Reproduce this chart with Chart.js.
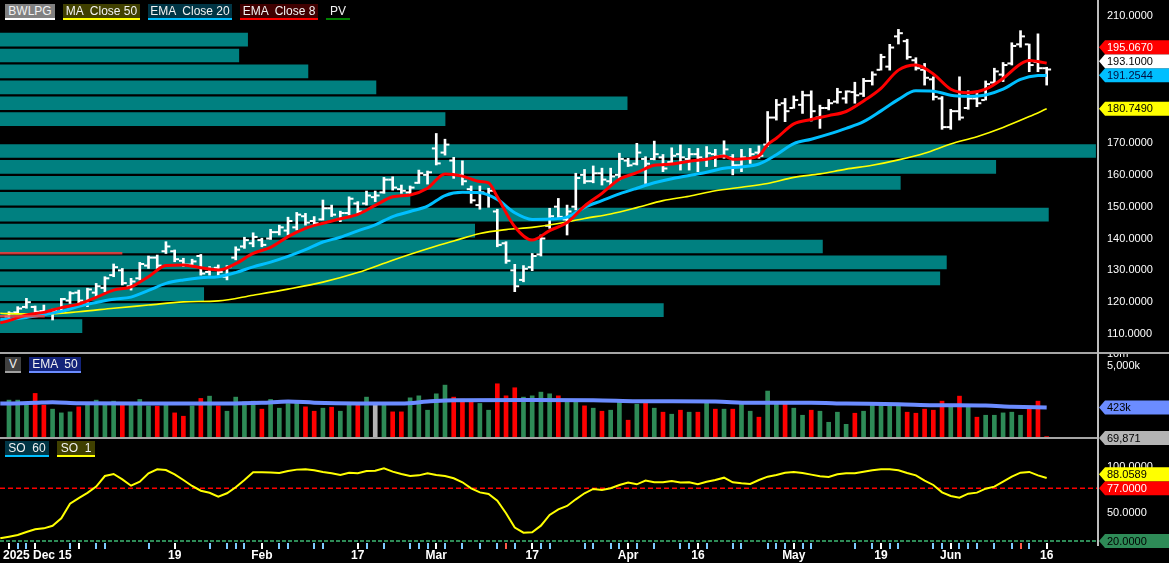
<!DOCTYPE html>
<html>
<head>
<meta charset="utf-8">
<title>BWLPG</title>
<script src="https://cdn.jsdelivr.net/npm/chart.js@4.4.1/dist/chart.umd.min.js"></script>
<style>
  html, body { margin: 0; padding: 0; background: #000; }
  #wrap { position: relative; width: 1169px; height: 563px; overflow: hidden; background: #000;
          font-family: "Liberation Sans", Arial, sans-serif; }
  canvas { position: absolute; left: 0; }
  .sep { position: absolute; background: #a6a6a6; z-index: 2; }
  .chip { position: absolute; z-index: 3; height: 16px; line-height: 14px; box-sizing: border-box;
          font-size: 12px; color: #f2f2f2; text-align: center; white-space: pre; border-bottom: 2px solid; }
</style>
</head>
<body>
<div id="wrap">
  <canvas id="priceChart" width="1169" height="352" style="top:0px"></canvas>
  <canvas id="soChart" width="1169" height="124" style="top:439px"></canvas>
  <canvas id="volChart" width="1169" height="100" style="top:354px"></canvas>

  <div class="sep" style="left:0;top:352px;width:1169px;height:2px"></div>
  <div class="sep" style="left:0;top:437px;width:1097px;height:2px"></div>
  <div class="sep" style="left:1097px;top:0;width:2px;height:546px;background:#bdbdbd"></div>

  <div class="chip" style="left:5px;top:4px;width:50px;background:#808080;border-color:#ffffff">BWLPG</div>
  <div class="chip" style="left:63px;top:4px;width:77px;background:#404000;border-color:#ffff00">MA  Close 50</div>
  <div class="chip" style="left:148px;top:4px;width:84px;background:#003545;border-color:#00bfff">EMA  Close 20</div>
  <div class="chip" style="left:240px;top:4px;width:78px;background:#400000;border-color:#ff0000">EMA  Close 8</div>
  <div class="chip" style="left:326px;top:4px;width:24px;border-color:#008000">PV</div>

  <div class="chip" style="left:5px;top:357px;width:16px;background:#404040;border-color:#a0a0a0">V</div>
  <div class="chip" style="left:29px;top:357px;width:52px;background:#13237a;border-color:#6b8cff">EMA  50</div>

  <div class="chip" style="left:5px;top:441px;width:44px;background:#003545;border-color:#00bfff">SO  60</div>
  <div class="chip" style="left:57px;top:441px;width:38px;background:#404000;border-color:#ffff00">SO  1</div>
</div>

<script>
const FONT = '"Liberation Sans", Arial, sans-serif';

// bar index 0 = 2025 Dec 15, index 119 = Jun 16
const xLabelIdx  = [0, 19, 29, 40, 49, 60, 71, 79, 90, 100, 108, 119];
const xLabelText = ['2025 Dec 15', '19', 'Feb', '17', 'Mar', '17', 'Apr', '16', 'May', '19', 'Jun', '16'];
const whiteTickIdx = [0, 3, 8, 19, 29, 40, 49, 60, 71, 79, 90, 100, 108, 119];
const blueTickIdx = [1, 2, 7, 10, 11, 16, 23, 25, 26, 27, 31, 32, 35, 36, 41, 43, 46, 47, 48, 50, 52, 54, 56, 58,
  61, 62, 66, 67, 69, 70, 72, 74, 77, 78, 80, 83, 84, 87, 88, 89, 91, 92, 97, 99, 101, 102, 106, 107, 109,
  110, 111, 113, 115, 117];
const redTickIdx = [57, 116];

// OHLC
const highs = [117.0,118.6,121.2,118.8,119.1,117.8,121.2,123.3,123.8,124.4,
  125.9,128.0,132.0,130.6,127.5,132.5,134.5,134.8,139.0,136.4,
  133.8,133.5,135.0,131.2,131.7,131.5,137.4,140.4,141.8,140.1,
  142.9,144.2,146.7,148.2,147.9,146.9,152.1,150.5,148.6,153.1,
  151.6,154.9,154.9,159.2,159.4,156.8,156.5,161.5,161.2,173.0,
  171.2,165.5,164.4,156.5,156.5,155.8,149.2,139.0,131.9,131.5,
  135.3,141.1,149.5,152.6,150.5,160.5,161.7,162.8,162.1,162.1,
  166.8,165.2,169.9,165.7,170.6,166.4,168.5,169.4,168.3,168.3,
  168.9,168.0,170.7,166.4,168.0,168.3,169.1,179.9,183.7,184.0,
  184.8,186.3,186.4,181.9,183.7,187.2,186.4,189.1,190.3,192.4,
  197.9,201.0,205.7,202.6,196.8,195.0,190.8,184.6,180.6,190.8,
  186.4,185.8,189.5,193.5,195.3,201.5,205.3,201.1,204.3,193.8];
const lows = [114.9,116.5,118.1,116.5,116.5,114.4,116.5,119.6,119.4,118.6,
  121.7,123.3,128.0,125.4,123.8,127.0,130.6,130.6,135.3,132.7,
  131.2,131.2,128.5,128.5,128.5,127.0,133.3,136.9,137.4,137.4,
  139.7,141.1,141.1,142.7,144.2,144.2,145.8,146.9,145.3,147.4,
  147.9,150.5,151.6,154.2,155.2,154.2,154.0,157.3,157.1,163.1,
  166.2,158.9,156.8,151.1,149.2,149.8,137.4,132.2,123.3,126.4,
  129.9,134.5,143.2,146.4,141.1,149.0,157.3,157.5,156.8,156.5,
  158.4,162.6,163.1,157.3,164.7,161.0,163.6,161.5,161.5,161.0,
  162.6,162.6,165.2,160.0,161.0,163.6,165.2,168.9,177.2,176.7,
  180.9,179.3,176.9,174.6,180.4,182.5,182.5,182.5,184.6,188.2,
  192.9,192.9,201.1,196.3,192.9,188.2,183.5,174.3,174.3,177.2,
  180.6,181.4,183.5,188.8,189.3,194.5,200.1,192.4,192.4,188.2];
const opens = [115.5,116.8,118.5,118.5,117.2,116.5,117.0,120.5,123.0,120.0,
  123.0,124.5,128.5,130.0,125.0,127.5,131.5,134.0,136.0,136.0,
  133.0,131.8,134.5,129.5,130.8,128.0,134.0,137.5,138.5,139.5,
  140.0,142.0,142.5,143.5,147.0,145.5,146.0,149.5,146.0,148.0,
  151.0,151.0,153.0,154.5,158.5,155.5,154.5,157.5,160.0,168.3,
  167.0,164.5,160.0,155.5,150.5,154.0,148.5,138.5,130.0,127.0,
  131.0,135.0,144.0,150.0,146.0,150.0,160.0,158.0,160.5,158.0,
  160.0,164.5,163.5,165.0,165.0,165.5,164.0,166.5,165.0,166.5,
  165.0,166.5,166.0,165.5,163.0,165.0,167.0,169.5,178.0,182.5,
  181.0,182.0,185.0,178.0,181.0,183.0,184.0,186.0,185.5,189.5,
  193.0,194.0,203.5,202.0,196.0,193.0,190.0,184.0,175.0,180.0,
  181.0,184.0,183.5,189.0,191.5,195.0,201.0,201.0,195.5,193.5];
const closes = [116.5,118.0,120.0,117.0,116.8,117.3,121.0,122.8,120.5,124.0,
  125.0,127.5,131.0,126.0,126.5,132.0,134.0,131.5,137.5,133.5,
  131.8,132.8,129.0,130.5,129.5,131.0,136.5,139.5,140.5,138.0,
  142.0,143.5,145.5,147.5,145.0,144.8,149.5,147.5,148.0,152.5,
  148.5,153.5,153.5,158.5,156.0,155.0,156.0,160.5,160.8,163.6,
  169.5,160.0,158.0,152.0,154.5,155.0,138.0,133.0,125.0,130.5,
  134.5,140.0,147.0,146.8,148.5,159.0,158.0,160.5,158.5,159.5,
  165.0,163.0,167.0,163.5,166.5,162.0,166.0,165.5,166.5,165.5,
  166.8,165.8,168.0,163.0,165.5,166.5,166.0,178.0,182.0,180.0,
  183.5,185.0,180.0,181.0,182.5,186.0,186.2,185.0,189.5,191.5,
  197.0,200.0,204.5,197.0,193.5,190.5,184.5,175.0,180.0,178.0,
  184.0,182.5,188.5,192.5,194.5,200.5,203.5,194.5,193.5,193.1];

// moving averages [bar index, value]
const ema8Pts = [[-1,113.5],[0,114.2],[2,116.0],[4,116.8],[6,118.3],[8,119.4],[10,121.5],[12,123.8],[14,124.8],
  [16,128.0],[18,131.5],[20,131.7],[22,130.8],[24,130.1],[26,132.1],[28,135.3],[30,137.2],[32,140.6],
  [34,143.2],[36,144.8],[38,146.2],[40,147.6],[42,150.4],[44,153.1],[46,153.7],[48,155.8],[50,160.3],
  [52,159.6],[54,157.9],[55,157.5],[56,153.1],[58,143.7],[60,139.5],[62,142.5],[64,145.0],[66,150.2],
  [68,154.2],[70,158.6],[72,160.7],[74,163.0],[76,163.4],[78,164.3],[80,164.9],[82,165.9],[83,164.9],
  [84,165.0],[86,166.0],[87,169.5],[88,171.5],[90,176.0],[92,177.4],[94,178.6],[96,179.9],[98,183.2],
  [100,187.2],[102,192.9],[104,194.5],[106,191.7],[108,186.9],[110,185.8],[112,186.9],[114,190.3],
  [116,194.8],[117,195.9],[118,195.6],[119,195.067]];
const ema20Pts = [[-1,114.6],[0,114.7],[2,115.2],[4,116.1],[6,117.1],[8,118.7],[10,119.9],[12,120.9],[14,121.6],
  [16,123.7],[18,125.9],[20,127.0],[22,127.7],[24,128.0],[26,129.3],[28,131.1],[30,132.6],[32,134.4],
  [34,136.5],[36,138.9],[38,140.4],[40,142.4],[42,144.3],[44,146.9],[46,148.5],[48,150.2],[50,153.5],
  [52,154.5],[54,154.4],[56,152.3],[58,148.1],[60,146.0],[62,146.1],[64,146.7],[66,149.8],[68,151.9],
  [70,154.0],[72,155.8],[74,157.5],[76,158.8],[78,159.8],[80,160.8],[82,162.1],[84,162.5],[86,163.4],
  [88,166.3],[90,169.8],[92,171.2],[94,172.8],[96,174.6],[98,176.7],[100,180.1],[102,183.7],[104,186.4],
  [106,186.3],[108,185.0],[110,184.7],[112,185.1],[114,186.9],[116,190.0],[118,191.2],[119,191.2544]];
const ma50Pts = [[-1,116.5],[0,116.4],[4,116.3],[8,117.0],[12,118.1],[16,119.1],[20,120.1],[24,120.4],[28,122.2],
  [32,124.1],[36,126.3],[40,129.3],[44,133.2],[48,136.8],[51,139.2],[54,141.6],[57,142.8],[60,143.5],
  [63,144.7],[66,146.3],[69,147.7],[72,149.7],[75,151.9],[78,153.3],[81,155.0],[84,156.1],[87,157.3],
  [90,159.2],[93,160.3],[96,161.8],[99,163.0],[102,164.7],[105,166.8],[108,169.7],[111,172.0],
  [114,174.9],[117,178.3],[119,180.749]];

// price volume profile: bin low price, share of the largest bin (%)
const pvBinLow = [200, 195, 190, 185, 180, 175, 170, 165, 160, 155, 150, 145, 140, 135, 130, 125, 120, 115, 110];
const pvBinSize = 5;
const pvShare  = [22.6, 21.8, 28.1, 34.3, 57.2, 40.6, 0, 99.9, 90.8, 82.1, 37.4, 95.6, 43.3, 75.0, 86.3, 85.7, 18.6, 60.5, 7.5];
const pvLevels = [[135.35, 13], [115.6, 4.1]];   // price, last bar reached
const priceTicks = [110, 120, 130, 140, 150, 160, 170, 180, 190, 200, 210];

// volume (thousands) and direction g=up r=down n=unchanged
const volumeK = [655,655,486,973,486,384,308,327,440,486,
  655,486,617,486,486,682,467,458,486,308,
  253,467,724,829,467,340,782,592,617,384,
  682,407,538,592,440,340,407,432,340,486,
  486,782,486,486,327,327,750,844,361,951,
  1590,782,694,617,538,361,1720,844,1360,782,
  844,1050,951,844,628,628,467,407,340,361,
  592,200,516,592,407,321,285,361,321,321,
  560,384,384,384,516,340,239,1120,516,516,
  407,268,361,340,177,321,157,302,340,486,
  486,486,486,321,302,384,361,617,486,829,
  432,239,268,268,308,321,268,384,617,76];
const volDir = ('gggrrgggrg' + 'gggrgggrgr' + 'rgrgrggggr' + 'ggggrrgrgg' + 'rgngrrgggg' + 'grrrggrrrg' +
  'gggrggrgrg' + 'grgrgrgrgr' + 'grgrggrggr' + 'ggrggggrgg' + 'gggrrrrrgr' + 'grgggggrrr').split('');
const volEmaPts = [[-1,538],[0,538],[3,560],[5,580],[8,545],[15,538],[25,538],[29,560],[32,605],[35,565],[40,540],
  [45,538],[48,600],[51,655],[60,660],[67,655],[72,617],[81,600],[85,560],[92,560],[96,535],[102,516],
  [106,486],[112,475],[115,445],[119,423]];
const volTicks = [5000, 10000];
const volTickText = ['5,000k', '10m'];
const volAxisMinK = 69.871;

// stochastic SO 1
const soVals = [24.7,26.5,29.7,32.6,33.7,36.5,44.5,60.3,66.4,72.0,
  78.8,90.3,92.5,86.7,79.8,84.1,93.2,97.5,96.8,92.1,
  86.0,79.5,74.4,72.2,67.9,71.6,78.1,86.0,94.3,94.3,
  94.0,93.6,95.7,97.2,97.5,96.5,94.7,93.2,91.4,93.9,
  93.2,95.7,96.1,98.6,95.0,92.5,90.3,91.0,93.2,91.4,
  90.3,87.8,83.5,77.0,72.6,70.9,63.7,50.0,34.5,29.0,
  29.4,36.6,48.2,54.3,57.9,65.1,71.6,76.3,75.2,77.0,
  80.6,83.2,81.3,85.3,83.5,83.5,84.9,83.2,83.5,81.3,
  84.1,86.0,88.5,83.5,82.4,81.7,86.0,89.6,91.4,93.9,
  94.7,93.6,91.8,90.0,89.2,92.1,93.2,93.2,95.0,96.5,
  97.5,97.5,96.5,93.6,91.0,85.3,80.6,72.6,68.7,66.9,
  71.2,72.3,76.6,78.8,84.1,89.6,93.9,94.7,91.0,88.0589];
const soPrev = 22.9;        // value at the left edge, bar -1
const soHigh = 77, soLow = 20;
const soTicks = [20, 50, 100];

// ---------------------------------------------------------------
const xMin = -1.03, xMax = 124.77;
const pts = a => a.map(p => ({ x: p[0], y: p[1] }));
const last = a => a[a.length - 1][1];

function xAxis() {
  return { type: 'linear', min: xMin, max: xMax, display: false, offset: false, grid: { display: false } };
}
function rightAxis(type, min, max, tickValues, fmt) {
  return {
    type: type, position: 'right', min: min, max: max, offset: false, beginAtZero: false,
    grid: { display: false, drawTicks: false }, border: { display: false },
    ticks: { color: '#ffffff', padding: 10, autoSkip: false, font: { size: 11, family: FONT }, callback: fmt },
    afterBuildTicks: s => { s.ticks = tickValues.map(v => ({ value: v })); },
    // fixed axis width; labels may overhang the pane edges like the original
    afterFit: s => { s.width = 72; s.paddingTop = 0; s.paddingBottom = 0; }
  };
}
function baseOptions(scales, padBottom) {
  return {
    responsive: false, animation: false, events: [],
    layout: { autoPadding: false, padding: { left: 0, right: 0, top: 0, bottom: padBottom } },
    plugins: { legend: { display: false }, tooltip: { enabled: false } },
    scales: scales
  };
}

// value tags on the right axis, pushed upward when they collide
function tagPlugin(items) {
  return {
    id: 'valueTags',
    afterDraw(chart) {
      const ctx = chart.ctx, y = chart.scales.y, left = chart.chartArea.right + 2, W = chart.width;
      const list = items.map(t => Object.assign({ py: y.getPixelForValue(t.value) }, t))
        .sort((a, b) => b.py - a.py);
      for (let k = 1; k < list.length; k++) {
        if (list[k - 1].py - list[k].py < 14) list[k].py = list[k - 1].py - 14;
      }
      ctx.save();
      ctx.font = '11px ' + FONT;
      ctx.textBaseline = 'middle';
      ctx.textAlign = 'left';
      list.forEach(t => {
        ctx.fillStyle = t.bg;
        ctx.beginPath();
        ctx.moveTo(left, t.py);
        ctx.lineTo(left + 6, t.py - 7);
        ctx.lineTo(W, t.py - 7);
        ctx.lineTo(W, t.py + 7);
        ctx.lineTo(left + 6, t.py + 7);
        ctx.closePath();
        ctx.fill();
        ctx.fillStyle = t.fg;
        ctx.fillText(t.text, left + 8, t.py + 0.5);
      });
      ctx.restore();
    }
  };
}

// date axis: small ticks inside the bottom of the oscillator pane + labels below
const dateAxisPlugin = {
  id: 'dateAxis',
  afterDraw(chart) {
    const ctx = chart.ctx, x = chart.scales.x, bottom = chart.chartArea.bottom;
    ctx.save();
    [[blueTickIdx, '#7ecbff'], [redTickIdx, '#ff5a4a'], [whiteTickIdx, '#ffffff']].forEach(([idx, col]) => {
      ctx.fillStyle = col;
      idx.forEach(i => {
        const px = Math.round(x.getPixelForValue(i));
        ctx.fillRect(px - 1, bottom - 6, 2, 6);
      });
    });
    ctx.font = 'bold 12px ' + FONT;
    ctx.fillStyle = '#ffffff';
    ctx.textBaseline = 'middle';
    ctx.textAlign = 'left';
    xLabelIdx.forEach((i, k) => {
      const t = xLabelText[k];
      const w = ctx.measureText(t).width;
      let lx = x.getPixelForValue(i) - w / 2;
      if (lx < 3) lx = 3;
      ctx.fillText(t, lx, bottom + 6.5);
    });
    ctx.restore();
  }
};

// ---------------- price pane ----------------
const priceDatasets = [
  {
    type: 'bar', label: 'PV', indexAxis: 'y', xAxisID: 'xpv', yAxisID: 'y', order: 10,
    data: pvBinLow.map((b, k) => ({ x: pvShare[k], y: b + pvBinSize / 2 })),
    backgroundColor: '#008080', barThickness: 13.7, grouped: false, inflateAmount: 0
  },
  {
    type: 'bar', label: 'range', xAxisID: 'x', yAxisID: 'y', order: 6,
    data: highs.map((h, i) => ({ x: i, y: [lows[i], h] })),
    backgroundColor: '#ffffff', barThickness: 2, grouped: false
  },
  {
    type: 'line', label: 'open', order: 5, showLine: false,
    data: opens.map((o, i) => ({ x: i - 0.3, y: o })),
    pointStyle: 'line', pointRadius: 1.8, pointBorderWidth: 2, pointBorderColor: '#ffffff'
  },
  {
    type: 'line', label: 'close', order: 5, showLine: false,
    data: closes.map((c, i) => ({ x: i + 0.3, y: c })),
    pointStyle: 'line', pointRadius: 1.8, pointBorderWidth: 2, pointBorderColor: '#ffffff'
  },
  {
    type: 'line', label: 'MA Close 50', order: 3, data: pts(ma50Pts),
    borderColor: '#ffff00', borderWidth: 1.6, pointRadius: 0, cubicInterpolationMode: 'monotone'
  },
  {
    type: 'line', label: 'EMA Close 20', order: 2, data: pts(ema20Pts),
    borderColor: '#00bfff', borderWidth: 3, pointRadius: 0, cubicInterpolationMode: 'monotone'
  },
  {
    type: 'line', label: 'EMA Close 8', order: 1, data: pts(ema8Pts),
    borderColor: '#ff0000', borderWidth: 3, pointRadius: 0, cubicInterpolationMode: 'monotone'
  }
].concat(pvLevels.map(([p, to]) => ({
  type: 'line', label: 'PV level', order: 0,
  data: [{ x: xMin, y: p }, { x: to, y: p }],
  borderColor: 'rgba(255,60,60,0.8)', borderWidth: 2.5, pointRadius: 0
})));

new Chart(document.getElementById('priceChart'), {
  type: 'line',
  data: { datasets: priceDatasets },
  options: baseOptions({
    x: xAxis(),
    xpv: { type: 'linear', axis: 'x', min: 0, max: 100, display: false, offset: false },
    y: rightAxis('linear', 104.35, 214.93, priceTicks, v => Number(v).toFixed(4))
  }, 0),
  plugins: [tagPlugin([
    { value: last(ema8Pts), text: last(ema8Pts).toFixed(4), bg: '#ff0000', fg: '#ffffff' },
    { value: closes[closes.length - 1], text: closes[closes.length - 1].toFixed(4), bg: '#ffffff', fg: '#000000' },
    { value: last(ema20Pts), text: last(ema20Pts).toFixed(4), bg: '#00bfff', fg: '#001040' },
    { value: last(ma50Pts), text: last(ma50Pts).toFixed(4), bg: '#ffff00', fg: '#000000' }
  ])]
});

// ---------------- volume pane ----------------
const volColor = { g: '#2e8b57', r: '#ff0000', n: '#b4b4b4' };
new Chart(document.getElementById('volChart'), {
  type: 'line',
  data: {
    datasets: [
      {
        type: 'bar', label: 'V', order: 2,
        data: volumeK.map((v, i) => ({ x: i, y: v })),
        backgroundColor: volDir.map(d => volColor[d]), barThickness: 4, grouped: false
      },
      {
        type: 'line', label: 'EMA 50', order: 1, data: pts(volEmaPts),
        borderColor: '#6b8cff', borderWidth: 4, pointRadius: 0, cubicInterpolationMode: 'monotone'
      }
    ]
  },
  options: baseOptions({
    x: xAxis(),
    y: rightAxis('logarithmic', volAxisMinK, 10000, volTicks, (v, i) => volTickText[i])
  }, 16),
  plugins: [tagPlugin([
    { value: last(volEmaPts), text: Math.round(last(volEmaPts)) + 'k', bg: '#6b8cff', fg: '#000000' },
    { value: volAxisMinK, text: Math.round(volAxisMinK * 1000).toLocaleString('en-US'), bg: '#b4b4b4', fg: '#000000' }
  ])]
});

// ---------------- stochastic pane ----------------
new Chart(document.getElementById('soChart'), {
  type: 'line',
  data: {
    datasets: [
      {
        label: 'SO 1', order: 1,
        data: [{ x: -1, y: soPrev }].concat(soVals.map((v, i) => ({ x: i, y: v }))),
        borderColor: '#ffff00', borderWidth: 2, pointRadius: 0, tension: 0
      },
      {
        label: 'upper', order: 2, data: [{ x: xMin, y: soHigh }, { x: xMax, y: soHigh }],
        borderColor: '#ff0000', borderWidth: 1.5, borderDash: [5, 3], pointRadius: 0
      },
      {
        label: 'lower', order: 2, data: [{ x: xMin, y: soLow }, { x: xMax, y: soLow }],
        borderColor: '#2e8b57', borderWidth: 2, borderDash: [4, 2], pointRadius: 0
      }
    ]
  },
  options: baseOptions({
    x: xAxis(),
    y: rightAxis('linear', 11.35, 130.32, soTicks, v => Number(v).toFixed(4))
  }, 14),
  plugins: [dateAxisPlugin, tagPlugin([
    { value: soVals[soVals.length - 1], text: soVals[soVals.length - 1].toFixed(4), bg: '#ffff00', fg: '#000000' },
    { value: soHigh, text: soHigh.toFixed(4), bg: '#ff0000', fg: '#ffffff' },
    { value: soLow, text: soLow.toFixed(4), bg: '#2e8b57', fg: '#000000' }
  ])]
});
</script>
</body>
</html>
